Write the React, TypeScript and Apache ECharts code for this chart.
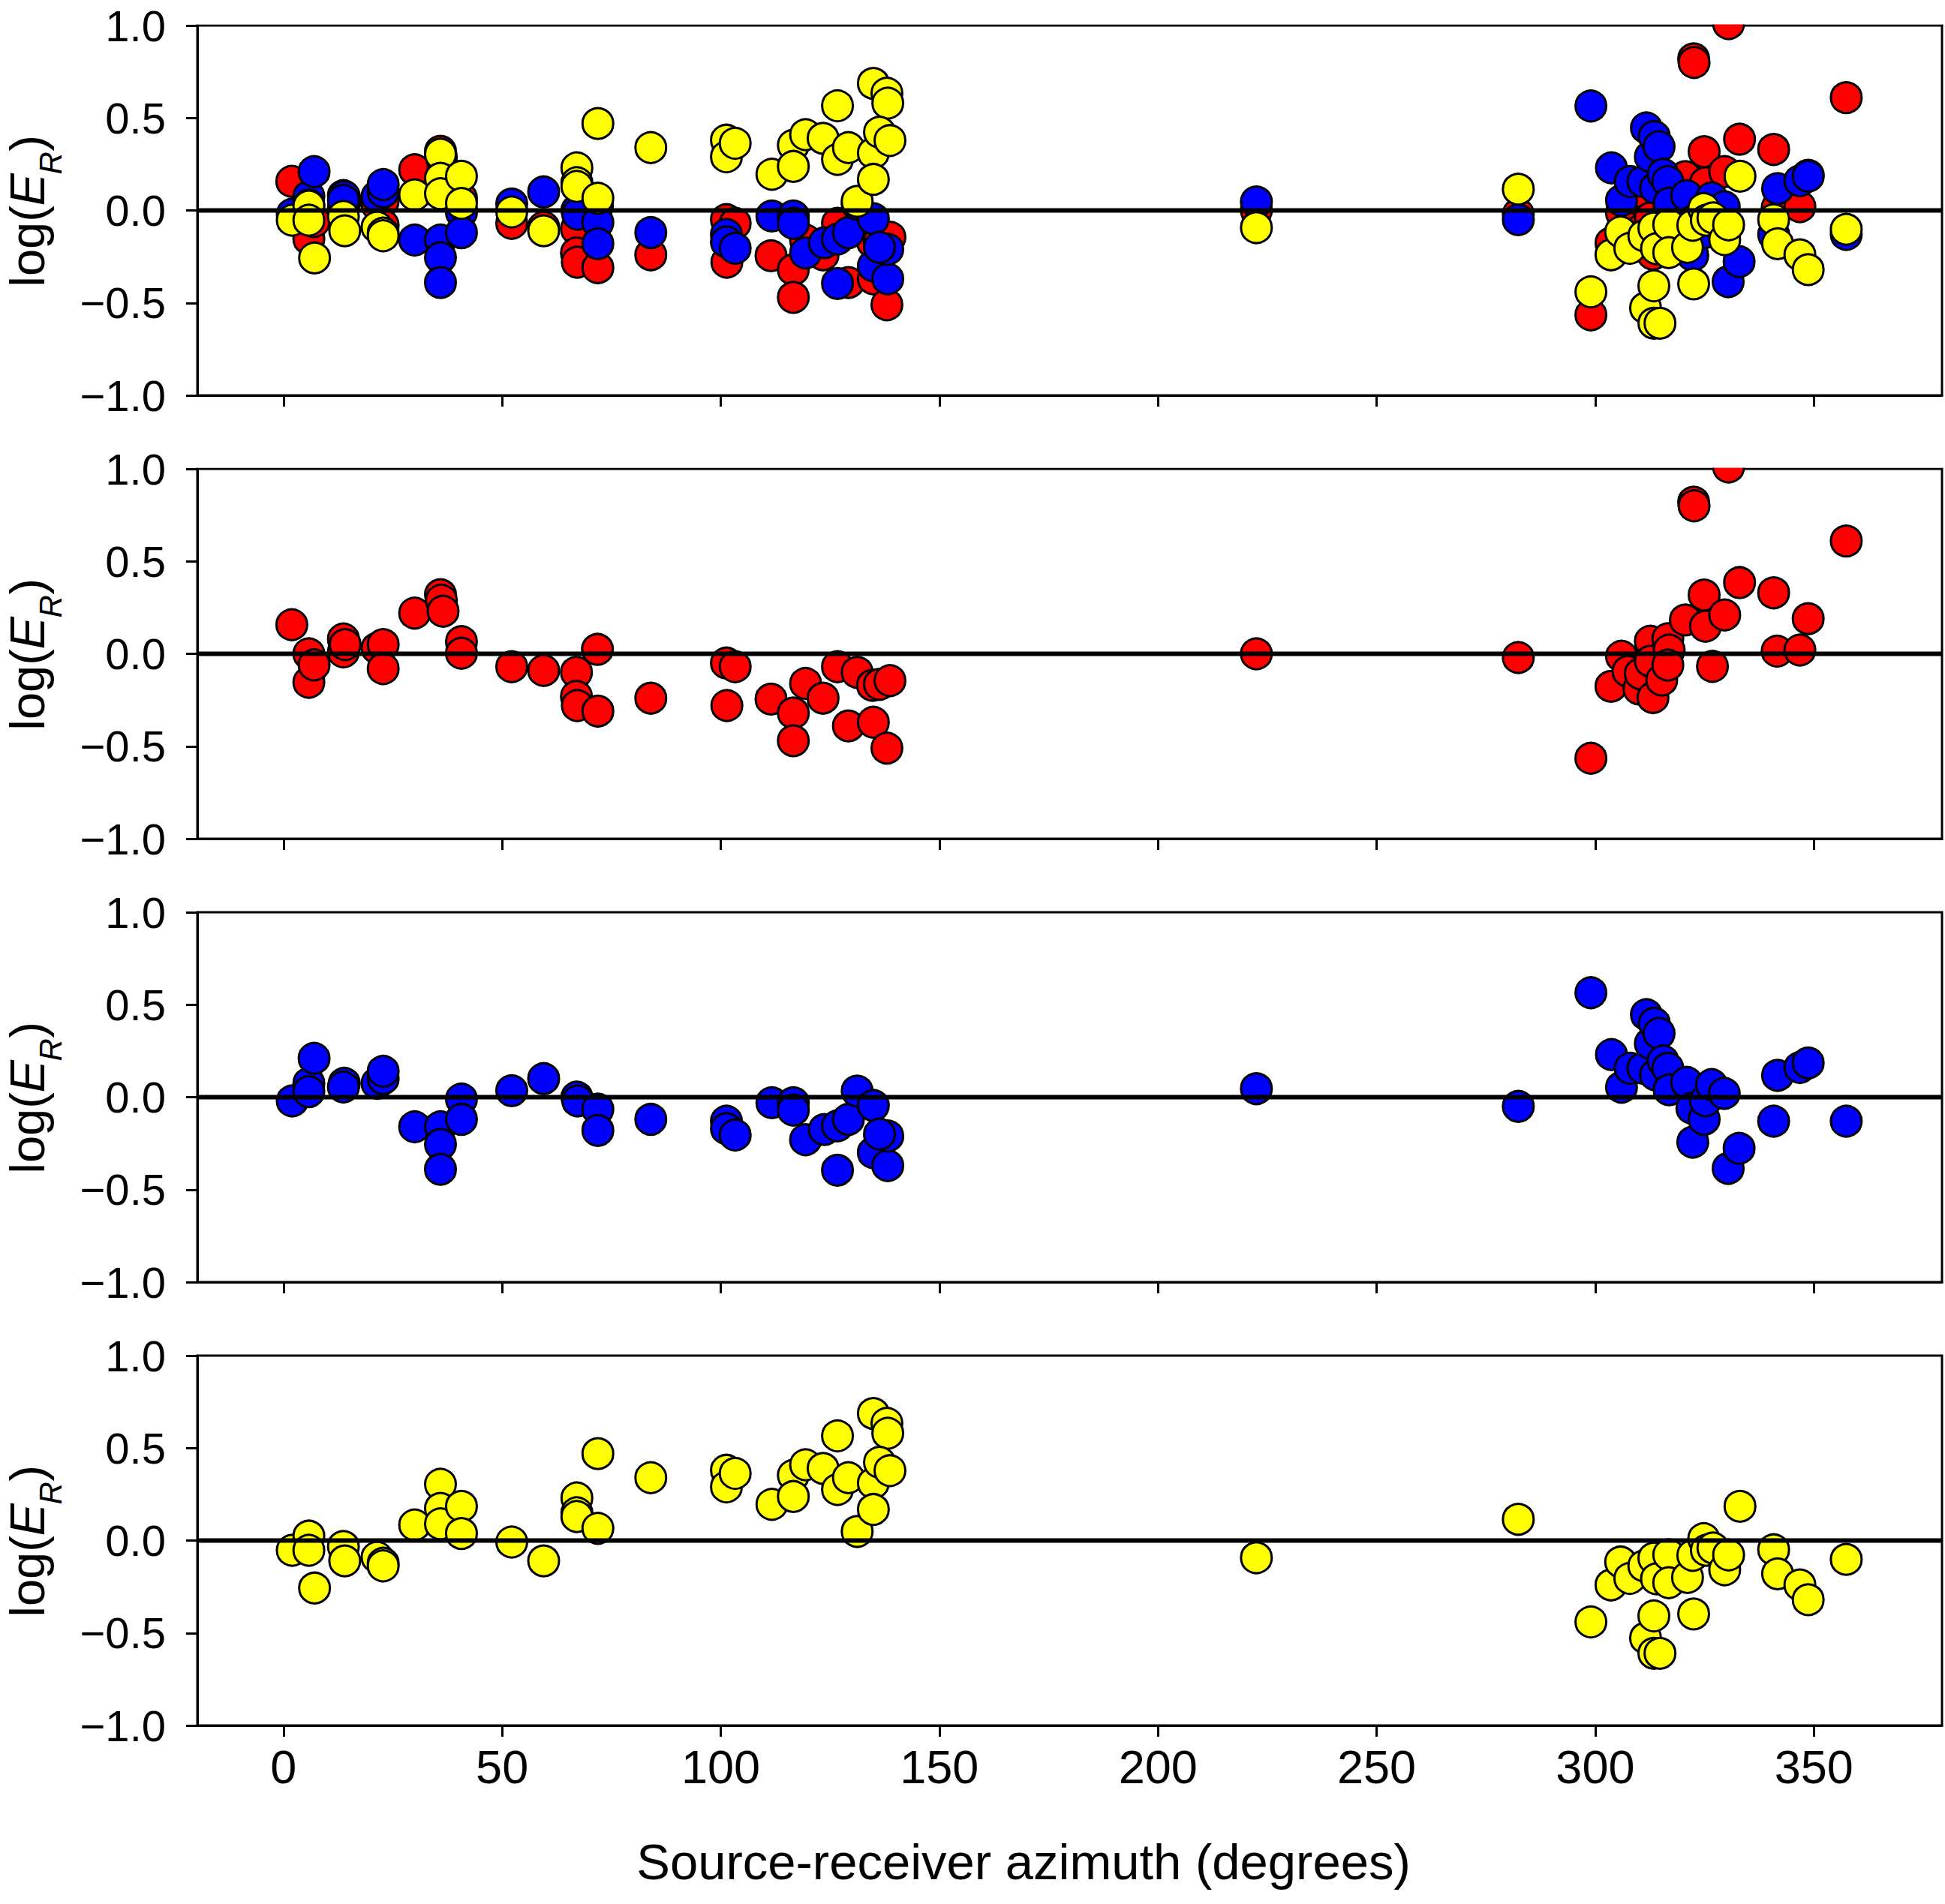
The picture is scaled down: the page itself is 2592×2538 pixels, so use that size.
import React, { useEffect, useRef } from "react";
import * as echarts from "echarts";

// ---------- data (azimuth in degrees, log(E_R)) ----------
const redAzimuth = [
  1.9, 5.8, 5.8, 7.0, 13.7, 13.7, 14.1, 21.4, 22.8, 22.8, 30.0, 35.9, 36.1, 36.5, 40.7, 40.7, 52.2, 59.5, 67.0, 67.0,
  67.2, 71.8, 71.9, 84.0, 101.3, 103.3, 101.4, 111.5, 116.6, 116.6, 119.4, 123.4, 126.7, 129.2, 131.2, 134.9, 134.7,
  136.3, 138.7, 138.0, 222.5, 282.4, 299.0, 303.6, 306.0, 307.5, 310.0, 310.3, 312.6, 312.6, 313.2, 315.2, 316.6,
  316.9, 316.6, 320.6, 322.5, 322.6, 324.9, 325.2, 326.8, 329.6, 330.5, 333.0, 340.8, 341.6, 346.8, 348.7, 357.4,
];
const redLogER = [
  0.157, 0.0, -0.154, -0.06, 0.08, 0.01, 0.05, 0.03, 0.05, -0.08, 0.22, 0.32, 0.29, 0.23, 0.066, 0.003, -0.07, -0.09,
  -0.1, -0.23, -0.28, 0.024, -0.31, -0.24, -0.05, -0.07, -0.28, -0.245, -0.32, -0.47, -0.16, -0.24, -0.07, -0.39, -0.1,
  -0.37, -0.17, -0.165, -0.145, -0.51, 0.0, -0.02, -0.565, -0.176, -0.013, -0.095, -0.19, -0.108, 0.068, -0.04,
  -0.237, -0.142, 0.081, 0.02, -0.061, 0.183, 0.82, 0.8, 0.318, 0.149, -0.068, 0.21, 1.01, 0.385, 0.33, 0.014, 0.02,
  0.19, 0.61,
];

const blueAzimuth = [
  2.0, 5.8, 5.8, 7.0, 13.9, 13.7, 21.4, 22.8, 22.8, 30.0, 35.9, 35.9, 35.9, 40.7, 40.7, 52.2, 59.5, 67.1, 67.3, 71.9,
  71.9, 84.0, 101.3, 101.3, 103.3, 111.7, 116.6, 116.6, 119.4, 123.7, 126.7, 129.2, 126.7, 131.2, 134.9, 134.9, 138.2,
  138.2, 136.3, 222.5, 282.4, 299.0, 303.7, 306.0, 308.0, 310.9, 311.7, 312.6, 313.5, 313.8, 314.6, 315.5, 316.6,
  316.9, 320.9, 322.1, 322.3, 324.9, 325.2, 326.6, 329.5, 330.4, 332.9, 340.8, 341.7, 346.8, 348.7, 357.4,
];
const blueLogER = [
  -0.02, 0.075, 0.03, 0.21, 0.075, 0.055, 0.075, 0.1, 0.14, -0.16, -0.16, -0.255, -0.39, -0.01, -0.12, 0.035, 0.1, 0.0,
  -0.02, -0.065, -0.18, -0.12, -0.13, -0.17, -0.205, -0.03, -0.03, -0.07, -0.23, -0.175, -0.155, -0.12, -0.395, 0.033,
  -0.045, -0.3, -0.37, -0.21, -0.2, 0.046, -0.05, 0.565, 0.23, 0.054, 0.156, 0.156, 0.446, 0.29, 0.4, 0.12, 0.345,
  0.196, 0.156, 0.04, 0.08, -0.06, -0.243, -0.12, -0.02, 0.068, 0.02, -0.385, -0.277, -0.13, 0.118, 0.16, 0.185, -0.13,
];

const yellowAzimuth = [
  2.0, 5.8, 5.8, 7.1, 13.7, 14.0, 21.4, 22.8, 22.8, 30.0, 35.9, 35.9, 35.9, 40.7, 40.7, 52.2, 59.5, 67.1, 67.1, 67.1,
  71.9, 71.9, 84.0, 101.3, 101.3, 103.3, 111.7, 116.6, 116.6, 119.4, 123.4, 126.7, 126.7, 129.2, 131.2, 134.9, 134.9,
  134.9, 138.0, 138.2, 136.3, 138.7, 222.5, 282.4, 299.0, 303.6, 305.8, 307.9, 311.1, 311.5, 313.4, 313.4, 314.8,
  313.4, 314.0, 316.8, 316.8, 321.1, 322.3, 322.5, 324.8, 325.4, 326.9, 329.6, 330.5, 333.1, 340.8, 341.7, 346.8,
  348.7, 357.4,
];
const yellowLogER = [
  -0.053, 0.024, -0.053, -0.257, -0.032, -0.11, -0.09, -0.123, -0.137, 0.084, 0.304, 0.174, 0.09, 0.185, 0.038, -0.008,
  -0.11, 0.23, 0.15, 0.13, 0.47, 0.066, 0.34, 0.38, 0.29, 0.363, 0.196, 0.353, 0.238, 0.41, 0.39, 0.566, 0.276, 0.34,
  0.049, 0.687, 0.31, 0.168, 0.634, 0.58, 0.423, 0.378, -0.093, 0.115, -0.44, -0.24, -0.116, -0.205, -0.137, -0.527,
  -0.408, -0.61, -0.61, -0.095, -0.207, -0.077, -0.228, -0.2, -0.08, -0.397, 0.01, -0.053, -0.04, -0.158, -0.078,
  0.185, -0.05, -0.18, -0.24, -0.32, -0.102,
];

const xTickValues = [0, 50, 100, 150, 200, 250, 300, 350];
const xTitle = "Source-receiver azimuth (degrees)";

// ---------- layout ----------
const W = 2592;
const H = 2538;
const GRID_LEFT = 263;
const GRID_WIDTH = 2325;
const GRID_TOPS = [34, 625, 1216, 1807];
const GRID_HEIGHT = 493;
const X_MIN = -19.7;
const X_MAX = 379.3;
const FONT = "'Liberation Sans', Arial, Helvetica, sans-serif";

const zip = (xs: number[], ys: number[]) => xs.map((x, i) => [x, ys[i]]);

export default function App() {
  const ref = useRef<HTMLDivElement>(null);

  useEffect(() => {
    document.body.style.margin = "0";
    if (!ref.current) return;
    const chart = echarts.init(ref.current, null, { renderer: "svg" });

    const red = zip(redAzimuth, redLogER);
    const blue = zip(blueAzimuth, blueLogER);
    const yellow = zip(yellowAzimuth, yellowLogER);

    const grids = GRID_TOPS.map((top) => ({
      left: GRID_LEFT,
      top,
      width: GRID_WIDTH,
      height: GRID_HEIGHT,
      show: true,
      borderColor: "#000",
      borderWidth: 3,
      backgroundColor: "transparent",
      containLabel: false,
    }));

    const xAxes = GRID_TOPS.map((_, i) => ({
      type: "value",
      gridIndex: i,
      min: X_MIN,
      max: X_MAX,
      axisLine: { show: true, onZero: false, lineStyle: { color: "#000", width: 3 } },
      axisTick: {
        show: true,
        inside: false,
        length: 15,
        lineStyle: { color: "#000", width: 3 },
        customValues: xTickValues,
      },
      axisLabel: {
        show: i === 3,
        customValues: xTickValues,
        fontSize: 63,
        fontFamily: FONT,
        color: "#000",
        margin: 23,
      },
      splitLine: { show: false },
    }));

    const yAxes = GRID_TOPS.map((_, i) => ({
      type: "value",
      gridIndex: i,
      min: -1,
      max: 1,
      interval: 0.5,
      axisLine: { show: true, onZero: false, lineStyle: { color: "#000", width: 3 } },
      axisTick: { show: true, inside: false, length: 15, lineStyle: { color: "#000", width: 3 } },
      axisLabel: {
        fontSize: 58,
        fontFamily: FONT,
        color: "#000",
        margin: 42,
        formatter: (v: number) => v.toFixed(1).replace("-", "\u2212"),
      },
      splitLine: { show: false },
    }));

    const scatter = (data: number[][], color: string, idx: number) => ({
      type: "scatter",
      xAxisIndex: idx,
      yAxisIndex: idx,
      data,
      symbol: "circle",
      symbolSize: 41,
      clip: false,
      itemStyle: { color, borderColor: "#000", borderWidth: 3, opacity: 1 },
      emphasis: { disabled: true },
      z: 2,
    });

    const zeroLine = (idx: number) => ({
      type: "line",
      xAxisIndex: idx,
      yAxisIndex: idx,
      data: [
        [X_MIN, 0],
        [X_MAX, 0],
      ],
      symbol: "none",
      lineStyle: { color: "#000", width: 6 },
      silent: true,
      z: 5,
    });

    const series = [
      scatter(red, "#ff0000", 0),
      scatter(blue, "#0000ff", 0),
      scatter(yellow, "#ffff00", 0),
      zeroLine(0),
      scatter(red, "#ff0000", 1),
      zeroLine(1),
      scatter(blue, "#0000ff", 2),
      zeroLine(2),
      scatter(yellow, "#ffff00", 3),
      zeroLine(3),
    ];

    // y-axis titles: log(E_R), rotated
    const yTitle = (cy: number) => ({
      type: "group",
      x: 36,
      y: cy,
      rotation: Math.PI / 2,
      silent: true,
      children: [
        {
          type: "text",
          x: -102,
          y: 0,
          style: { text: "log(", fontSize: 65, fontFamily: FONT, fill: "#000", align: "left", verticalAlign: "middle" },
        },
        {
          type: "text",
          x: 6,
          y: 0,
          style: {
            text: "E",
            fontSize: 65,
            fontFamily: FONT,
            fontStyle: "italic",
            fill: "#000",
            align: "left",
            verticalAlign: "middle",
          },
        },
        {
          type: "text",
          x: 48,
          y: 31,
          style: {
            text: "R",
            fontSize: 42,
            fontFamily: FONT,
            fontStyle: "italic",
            fill: "#000",
            align: "left",
            verticalAlign: "middle",
          },
        },
        {
          type: "text",
          x: 79,
          y: 0,
          style: { text: ")", fontSize: 65, fontFamily: FONT, fill: "#000", align: "left", verticalAlign: "middle" },
        },
      ],
    });

    const graphic: any[] = GRID_TOPS.map((t) => yTitle(t + GRID_HEIGHT / 2));
    graphic.push({
      type: "text",
      x: 1364,
      y: 2481,
      silent: true,
      style: {
        text: xTitle,
        fontSize: 67,
        fontFamily: FONT,
        fill: "#000",
        align: "center",
        verticalAlign: "middle",
      },
    });
    // mask symbols that overflow the top of the first two panels
    graphic.push({
      type: "rect",
      silent: true,
      z: 100,
      shape: { x: GRID_LEFT, y: 0, width: GRID_WIDTH, height: GRID_TOPS[0] - 1.5 },
      style: { fill: "#fff" },
    });
    graphic.push({
      type: "rect",
      silent: true,
      z: 100,
      shape: { x: GRID_LEFT, y: GRID_TOPS[1] - 62, width: GRID_WIDTH, height: 60.5 },
      style: { fill: "#fff" },
    });

    chart.setOption({
      animation: false,
      backgroundColor: "#fff",
      textStyle: { fontFamily: FONT },
      grid: grids,
      xAxis: xAxes,
      yAxis: yAxes,
      series,
      graphic,
    });

    return () => chart.dispose();
  }, []);

  return <div ref={ref} style={{ width: W, height: H }} />;
}
